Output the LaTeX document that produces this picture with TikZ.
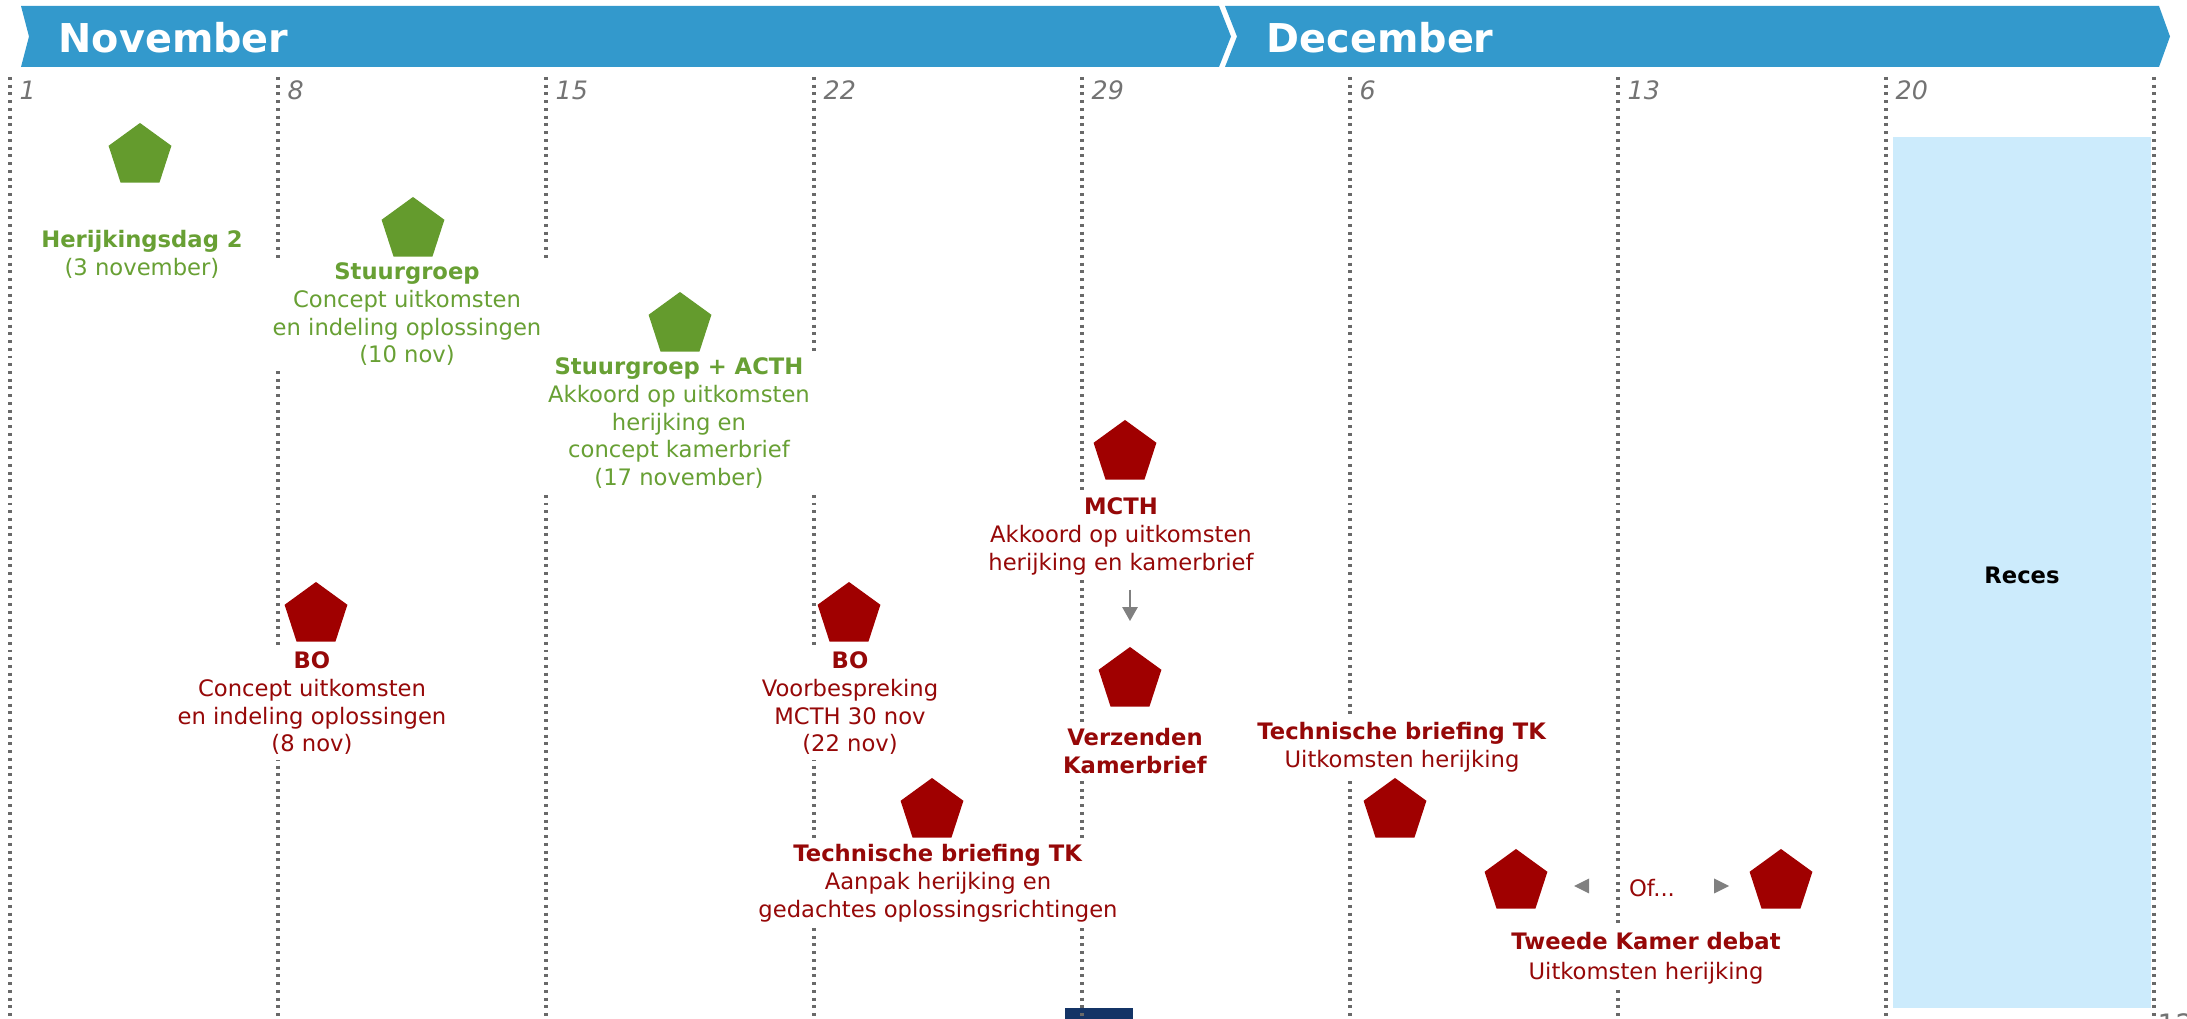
\documentclass[tikz,border=0pt]{standalone}
\usepackage{fontspec}
\setmainfont{DejaVu Sans}
\usetikzlibrary{shapes.geometric,arrows.meta,calc}
\definecolor{bannerblue}{RGB}{51,153,204}
\definecolor{pgreen}{RGB}{100,155,45}
\definecolor{tgreen}{RGB}{104,160,52}
\definecolor{pred}{RGB}{160,0,0}
\definecolor{tred}{RGB}{150,8,8}
\definecolor{recesblue}{RGB}{204,235,252}
\definecolor{navyblk}{RGB}{20,52,102}
\definecolor{dotgray}{RGB}{105,105,105}
\definecolor{dategray}{RGB}{115,115,115}
\definecolor{arrgray}{RGB}{128,128,128}
\begin{document}
\begin{tikzpicture}[x=0.01cm,y=-0.01cm,
  pent/.style={regular polygon, regular polygon sides=5, minimum size=0.66cm, inner sep=0pt},
  pentg/.style={pent, fill=pgreen},
  pentr/.style={pent, fill=pred},
  lbl/.style={align=center, anchor=north, fill=white, inner xsep=0.07cm, inner ysep=0.05cm, font=\fontsize{6.45}{7.9}\selectfont},
  lblg/.style={lbl, text=tgreen},
  lblr/.style={lbl, text=tred},
  wk/.style={dotgray, line width=0.95pt, dash pattern=on 0.85pt off 1.35pt},
  datelbl/.style={anchor=base west, inner sep=0pt, text=dategray, font=\fontsize{7.2}{8}\selectfont\itshape},
  month/.style={anchor=base west, inner sep=0pt, text=white, font=\fontsize{11.3}{13}\selectfont\bfseries},
  garrow/.style={arrgray, line width=0.7pt, -{Triangle[width=4.3pt,length=4pt]}},
]
\useasboundingbox (0,0) rectangle (2187,1019);
% banner
\fill[bannerblue] (21,6) -- (1219,6) -- (1231,36.5) -- (1219,67) -- (21,67) -- (29,36.5) -- cycle;
\fill[bannerblue] (1225,6) -- (2159,6) -- (2170,36.5) -- (2159,67) -- (1225,67) -- (1237,36.5) -- cycle;
\node[month] (nov) at (58,53) {November};
\node[month] (dec) at (1266,53) {December};
% recess and bottom box
\fill[recesblue] (1893,137) rectangle (2151,1008);
\fill[navyblk] (1065,1008) rectangle (1133,1019);
% week lines
\foreach \i/\d in {0/1,1/8,2/15,3/22,4/29,5/6,6/13,7/20} {
  \draw[wk] ({10+268*\i},77) -- ({10+268*\i},1019);
  \node[datelbl] (d\i) at ({19+268*\i},100) {\d};
}
\draw[wk] (2154,77) -- (2154,1019);
% pentagons
\node[pentg] (herp) at (140,156) {};
\node[pentg] (stp) at (413,230) {};
\node[pentg] (acp) at (680,325) {};
\node[pentr] (mcp) at (1125,453) {};
\node[pentr] (verzp) at (1130,680) {};
\node[pentr] (bo1p) at (316,615) {};
\node[pentr] (bo2p) at (849,615) {};
\node[pentr] (te1p) at (932,811) {};
\node[pentr] (te2p) at (1395,811) {};
\node[pentr] (tkl) at (1516,882) {};
\node[pentr] (tkr) at (1781,882) {};
% labels
\node[lblg] (hert) at (142,225) {\textbf{Herijkingsdag 2}\\(3 november)};
\node[lblg] (stt) at (407,257) {\textbf{Stuurgroep}\\Concept uitkomsten\\en indeling oplossingen\\(10 nov)};
\node[lblg] (act) at (679,352) {\textbf{Stuurgroep + ACTH}\\Akkoord op uitkomsten\\herijking en\\concept kamerbrief\\(17 november)};
\node[lblr] (mct) at (1121,492) {\textbf{MCTH}\\Akkoord op uitkomsten\\herijking en kamerbrief};
\node[lblr] (verzt) at (1135,723) {\textbf{Verzenden}\\\textbf{Kamerbrief}};
\node[lblr] (bo1t) at (312,646) {\textbf{BO}\\Concept uitkomsten\\en indeling oplossingen\\(8 nov)};
\node[lblr] (bo2t) at (850,646) {\textbf{BO}\\Voorbespreking\\MCTH 30 nov\\(22 nov)};
\node[lblr] (te1t) at (938,839) {\textbf{Technische briefing TK}\\Aanpak herijking en\\gedachtes oplossingsrichtingen};
\node[lblr] (te2t) at (1402,717) {\textbf{Technische briefing TK}\\Uitkomsten herijking};
\node[lblr, font=\fontsize{6.45}{8.4}\selectfont] (tkt) at (1646,927) {\textbf{Tweede Kamer debat}\\Uitkomsten herijking};
\node[text=tred, inner sep=0pt, font=\fontsize{6.45}{7.9}\selectfont] (of) at (1652,888) {Of...};
\fill[arrgray] (1574,886) -- (1589,878.5) -- (1589,893.5) -- cycle;
\fill[arrgray] (1729,886) -- (1714,878.5) -- (1714,893.5) -- cycle;
\node[inner sep=0pt, font=\fontsize{6.45}{8}\selectfont\bfseries] (reces) at (2022,575) {Reces};
\node[anchor=north west, inner sep=0pt, text=dategray, font=\fontsize{8}{9}\selectfont] (pgnum) at (2157,1013) {12};
% arrow
\draw[garrow, shorten <=0.09cm, shorten >=0.25cm] (mct.south -| verzp.north) -- (verzp.north);
\end{tikzpicture}
\end{document}
